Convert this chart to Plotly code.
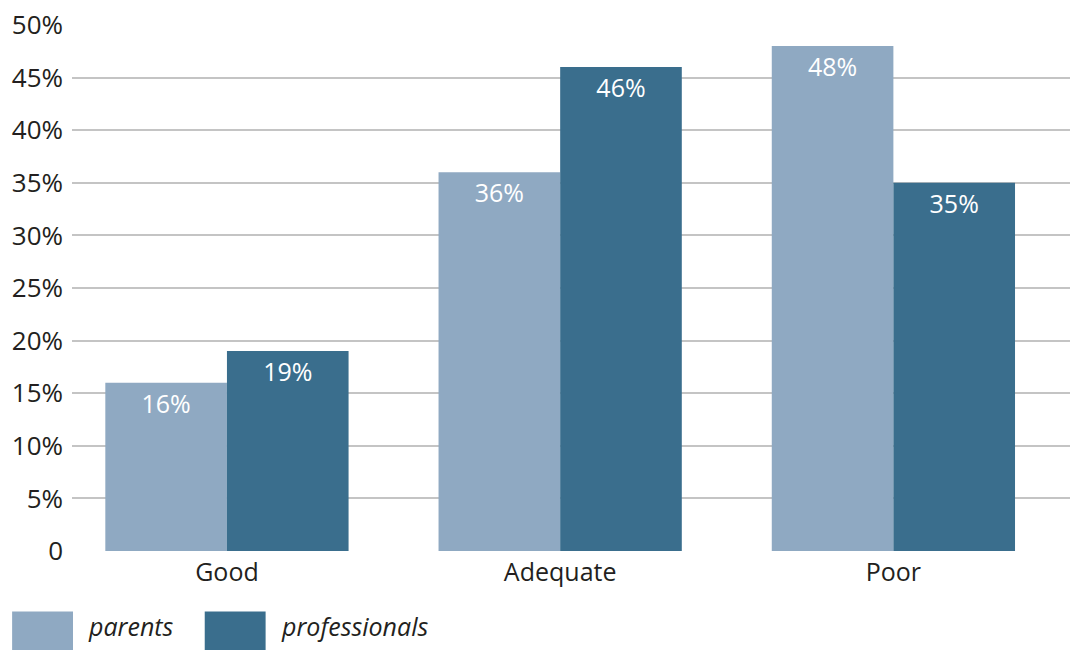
import plotly.graph_objects as go

categories = ["Good", "Adequate", "Poor"]
parents = [16, 36, 48]
professionals = [19, 46, 35]
tick_values = [0, 5, 10, 15, 20, 25, 30, 35, 40, 45, 50]
tick_labels = ["0", "5%", "10%", "15%", "20%", "25%", "30%", "35%", "40%", "45%", "50%"]

series = [("parents", parents, "#8FA9C2"), ("professionals", professionals, "#3A6E8D")]

FONT = "Open Sans"
TEXT_COLOR = "#231F20"

fig = go.Figure()
for name, values, color in series:
    fig.add_trace(go.Bar(
        name=name,
        x=categories,
        y=values,
        marker=dict(color=color, line=dict(width=0)),
        text=[f"{v}%" for v in values],
        textposition="inside",
        insidetextanchor="end",
        textangle=0,
        textfont=dict(family=FONT, size=25, color="white"),
        showlegend=False,
    ))

# legend drawn as large swatches with italic labels below the plot
legend_left = [-0.060, 0.133]
swatch_w = 0.061
for (name, _, color), lx in zip(series, legend_left):
    fig.add_shape(type="rect", xref="paper", yref="paper",
                  x0=lx, x1=lx + swatch_w, y0=-0.19, y1=-0.115,
                  fillcolor=color, line=dict(width=0))
    fig.add_annotation(xref="paper", yref="paper",
                       x=lx + swatch_w + 0.013, y=-0.143,
                       xanchor="left", yanchor="middle", showarrow=False,
                       text=f"<i>{name}</i>",
                       font=dict(family=FONT, size=25, color=TEXT_COLOR))

fig.update_layout(
    width=1076,
    height=650,
    autosize=False,
    margin=dict(l=72, r=6, t=21, b=99),
    paper_bgcolor="white",
    plot_bgcolor="white",
    barmode="group",
    bargap=0.27,
    bargroupgap=0,
    font=dict(family=FONT, size=25, color=TEXT_COLOR),
    xaxis=dict(
        range=[-0.465, 2.53],
        showgrid=False,
        showline=False,
        ticks="",
        ticklabelstandoff=4,
        tickfont=dict(family=FONT, size=25, color=TEXT_COLOR),
    ),
    yaxis=dict(
        range=[0, 50],
        tickvals=tick_values,
        ticktext=tick_labels,
        showgrid=True,
        gridcolor="#C4C4C4",
        gridwidth=2,
        zeroline=False,
        showline=False,
        ticks="",
        ticklabelstandoff=8,
        tickfont=dict(family=FONT, size=26, color=TEXT_COLOR),
    ),
)

fig.write_html("out.html")
